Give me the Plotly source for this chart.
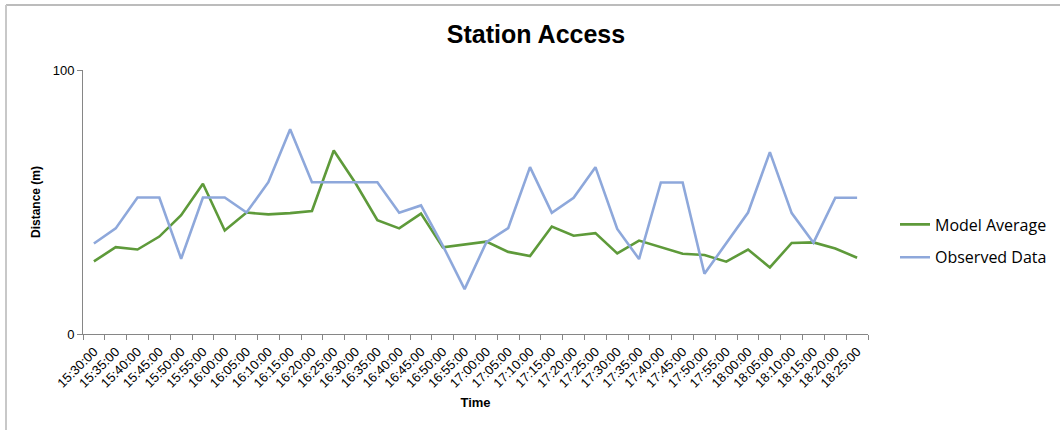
import plotly.graph_objects as go

times = ["15:30:00", "15:35:00", "15:40:00", "15:45:00", "15:50:00", "15:55:00",
         "16:00:00", "16:05:00", "16:10:00", "16:15:00", "16:20:00", "16:25:00",
         "16:30:00", "16:35:00", "16:40:00", "16:45:00", "16:50:00", "16:55:00",
         "17:00:00", "17:05:00", "17:10:00", "17:15:00", "17:20:00", "17:25:00",
         "17:30:00", "17:35:00", "17:40:00", "17:45:00", "17:50:00", "17:55:00",
         "18:00:00", "18:05:00", "18:10:00", "18:15:00", "18:20:00", "18:25:00"]

model_average = [27.5, 32.9, 32.0, 36.9, 45.0, 56.9, 39.2, 46.0, 45.3, 45.8, 46.6, 69.5,
                 57.1, 43.1, 40.0, 45.6, 32.8, 33.8, 35.0, 31.1, 29.5, 40.7, 37.2, 38.2,
                 30.5, 35.4, 32.8, 30.4, 29.9, 27.4, 32.0, 25.2, 34.5, 34.7, 32.4, 28.9]

observed_data = [34.3, 40.0, 51.7, 51.7, 28.5, 51.7, 51.7, 46.0, 57.5, 77.6, 57.5, 57.5,
                 57.5, 57.5, 45.9, 48.7, 33.5, 17.0, 34.8, 40.1, 63.2, 45.9, 51.6, 63.2,
                 39.8, 28.4, 57.4, 57.4, 22.8, 34.4, 46.0, 68.9, 45.8, 34.6, 51.6, 51.6]

y_ticks = [0, 100]

W, H = 1060, 430
ML, MR, MT, MB = 83, 192, 70, 96
PW, PH = W - ML - MR, H - MT - MB

fig = go.Figure()
fig.add_trace(go.Scatter(x=times, y=model_average, mode="lines", name="Model Average",
                         line=dict(color="#5E9A3A", width=2.6), legendgroup="a"))
fig.add_trace(go.Scatter(x=times, y=observed_data, mode="lines", name="Observed Data",
                         line=dict(color="#8EA8DB", width=2.6), legendgroup="b"))

axis_grey = "#868686"
fig.update_layout(
    width=W, height=H,
    margin=dict(l=ML, r=MR, t=MT, b=MB, autoexpand=False),
    paper_bgcolor="white", plot_bgcolor="white",
    font=dict(family="Liberation Sans, Arial, sans-serif", color="black"),
    title=dict(text="<b>Station Access</b>", x=(536 - ML) / PW, xref="paper", xanchor="center",
               y=1 - 34 / H, yanchor="middle", yref="container",
               font=dict(size=25, family="Liberation Sans, Arial, sans-serif", color="black")),
    xaxis=dict(
        type="category", showline=True, linecolor=axis_grey, linewidth=1,
        ticks="outside", tickson="boundaries", ticklen=5, tickcolor=axis_grey,
        tickangle=-45, tickfont=dict(size=13), showgrid=False, ticklabelstandoff=4,
        title=dict(text="<b>Time</b>", font=dict(size=13), standoff=8),
        range=[-0.5, len(times) - 0.5],
    ),
    yaxis=dict(
        range=[0, 100], tickvals=y_ticks, showline=True, linecolor=axis_grey, linewidth=1,
        ticks="outside", ticklen=5, tickcolor=axis_grey, tickfont=dict(size=13),
        showgrid=True, gridcolor="#D9D9D9", gridwidth=1, zeroline=False,
        title=dict(text="<b>Distance (m)</b>", font=dict(size=12), standoff=9),
    ),
    legend=dict(x=(895 - ML) / PW, xanchor="left", y=(334 - 241) / PH, yanchor="middle",
                font=dict(size=16, family="Open Sans, Liberation Sans, sans-serif"),
                traceorder="grouped", tracegroupgap=9, bgcolor="rgba(0,0,0,0)"),
    showlegend=True,
)

# outer chart border (top and left edges visible)
fig.add_shape(type="line", xref="paper", yref="paper",
              x0=(6 - ML) / PW, x1=(W - ML) / PW, y0=(MT + PH - 5) / PH, y1=(MT + PH - 5) / PH,
              line=dict(color="#A6A6A6", width=1.5))
fig.add_shape(type="line", xref="paper", yref="paper",
              x0=(6 - ML) / PW, x1=(6 - ML) / PW, y0=(MT + PH - 5) / PH, y1=-(H - MT - PH) / PH,
              line=dict(color="#C8C8C8", width=2))

fig.write_html("out.html", config={"displayModeBar": False},
               post_script="document.body.style.margin='0px';")
